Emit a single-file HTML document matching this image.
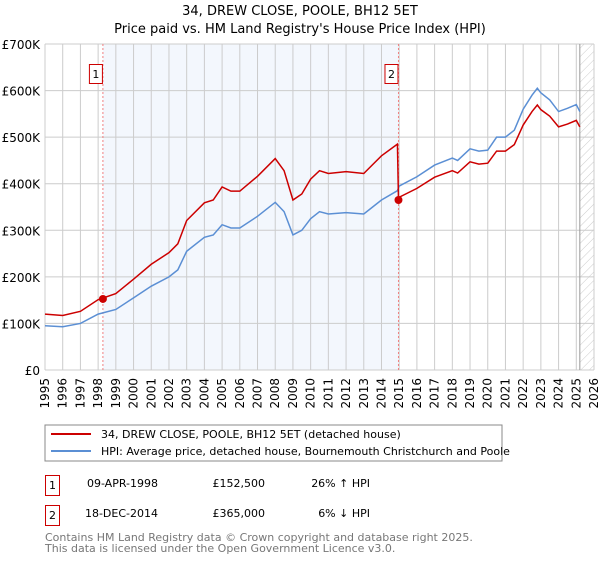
<!DOCTYPE html>
<html><head><meta charset="utf-8"><style>
body{margin:0;background:#fff;font-family:"DejaVu Sans","Liberation Sans",sans-serif;}
svg text{font-family:"DejaVu Sans","Liberation Sans",sans-serif;}
</style></head><body>
<svg width="600" height="560" viewBox="0 0 600 560">
<defs><pattern id="hatch" width="6" height="6" patternUnits="userSpaceOnUse" patternTransform="rotate(45)"><line x1="0" y1="0" x2="0" y2="6" stroke="#ccc" stroke-width="1"/></pattern></defs>
<text x="300" y="15" text-anchor="middle" font-size="13">34, DREW CLOSE, POOLE, BH12 5ET</text>
<text x="300" y="33" text-anchor="middle" font-size="13">Price paid vs. HM Land Registry's House Price Index (HPI)</text>
<g id="plot"></g>
<g>
<rect x="45" y="425" width="457" height="36" fill="#fff" stroke="#888"/>
<line x1="51" y1="434" x2="91" y2="434" stroke="#cc0000" stroke-width="2"/>
<text x="101" y="438" font-size="11">34, DREW CLOSE, POOLE, BH12 5ET (detached house)</text>
<line x1="51" y1="451" x2="91" y2="451" stroke="#5b8fd4" stroke-width="2"/>
<text x="101" y="455" font-size="11">HPI: Average price, detached house, Bournemouth Christchurch and Poole</text>
</g>
<g font-size="11">
<rect x="45.5" y="475.5" width="14" height="20" fill="#fff" stroke="#cc0000"/>
<text x="52.5" y="489" text-anchor="middle">1</text>
<text x="158" y="487" text-anchor="end">09-APR-1998</text>
<text x="265" y="487" text-anchor="end">£152,500</text>
<text x="370" y="487" text-anchor="end">26% ↑ HPI</text>
<rect x="45.5" y="505.5" width="14" height="20" fill="#fff" stroke="#cc0000"/>
<text x="52.5" y="519" text-anchor="middle">2</text>
<text x="158" y="517" text-anchor="end">18-DEC-2014</text>
<text x="265" y="517" text-anchor="end">£365,000</text>
<text x="370" y="517" text-anchor="end">6% ↓ HPI</text>
</g>
<text x="45" y="541" font-size="11" fill="#777">Contains HM Land Registry data © Crown copyright and database right 2025.</text>
<text x="45" y="552" font-size="11" fill="#777">This data is licensed under the Open Government Licence v3.0.</text>
</svg>
<script>
const years=[1995,1996,1997,1998,1999,2000,2001,2002,2002.5,2003,2004,2004.5,2005,2005.5,2006,2007,2008,2008.5,2009,2009.5,2010,2010.5,2011,2012,2013,2013.5,2014,2014.9,2015,2016,2017,2018,2018.3,2019,2019.5,2020,2020.5,2021,2021.5,2022,2022.5,2022.8,2023,2023.5,2024,2024.5,2025,2025.2];
const hpiValues=[95,93,100,120,130,155,180,200,215,255,285,290,312,305,305,330,360,340,290,300,325,340,335,338,335,350,365,385,395,415,440,455,450,475,470,472,500,500,515,560,590,605,595,580,555,562,570,555];
const redYears=[1995,1996,1997,1998,1999,2000,2001,2002,2002.5,2003,2004,2004.5,2005,2005.5,2006,2007,2008,2008.5,2009,2009.5,2010,2010.5,2011,2012,2013,2013.5,2014,2014.9,2014.96,2015,2016,2017,2018,2018.3,2019,2019.5,2020,2020.5,2021,2021.5,2022,2022.5,2022.8,2023,2023.5,2024,2024.5,2025,2025.2];
const redValues=[120,117,126,151,164,195,227,252,271,321,359,365,393,384,384,416,454,428,365,378,410,428,422,426,422,441,460,485,365,371,390,414,428,423,447,442,444,470,470,484,526,555,569,559,545,522,528,536,522];
const saleYears=[1998.27,2014.96];
const saleValues=[152.5,365];
const saleLabels=["1","2"];
const yTicks=[0,100,200,300,400,500,600,700];
const yTickLabels=["£0","£100K","£200K","£300K","£400K","£500K","£600K","£700K"];
const xTicks=[];for(let y=1995;y<=2026;y++)xTicks.push(y);

const X0=45,X1=594,Y0=370,Y1=44;
const xs=v=>X0+(v-1995)/(2026-1995)*(X1-X0);
const ys=v=>Y0-v/700*(Y0-Y1);
const NS="http://www.w3.org/2000/svg";
const g=document.getElementById('plot');
function mk(t,a,p){const e=document.createElementNS(NS,t);for(const k in a)e.setAttribute(k,a[k]);(p||g).appendChild(e);return e;}
// shaded region
let r=mk('rect',{x:xs(saleYears[0]),y:Y1,width:xs(saleYears[1])-xs(saleYears[0]),height:Y0-Y1,fill:'#eef3fc',opacity:0.7});


let h=mk('rect',{x:xs(2025.2),y:Y1,width:X1-xs(2025.2),height:Y0-Y1,fill:'url(#hatch)'});


xTicks.forEach(t=>{
 const l=mk('line',{x1:xs(t),x2:xs(t),y1:Y1,y2:Y0,stroke:'#ccc','stroke-width':1});
 
 
 const tx=mk('text',{x:0,y:0,'font-size':12,'text-anchor':'end',transform:`translate(${xs(t)+4},378) rotate(-90)`});
 tx.textContent=t;
 
 
});
yTicks.forEach((t,i)=>{
 const l=mk('line',{x1:X0,x2:X1,y1:ys(t),y2:ys(t),stroke:'#ccc','stroke-width':1});
 
 
 const tx=mk('text',{x:40,y:ys(t)+5,'font-size':12,'text-anchor':'end'});
 tx.textContent=yTickLabels[i];
 
 
});
let vl=mk('line',{x1:xs(2025.2),x2:xs(2025.2),y1:Y1,y2:Y0,stroke:'#999','stroke-width':1});


saleYears.forEach((s,i)=>{
 const l=mk('line',{x1:xs(s),x2:xs(s),y1:Y1,y2:Y0,stroke:'#f08080','stroke-width':1,'stroke-dasharray':'2,2'});
 
 
 const b=mk('rect',{x:xs(s)-13.5,y:64.5,width:13,height:19,fill:'#fff',stroke:'#cc0000'});
 
 
 const tx=mk('text',{x:xs(s)-7,y:78,'font-size':11,'text-anchor':'middle'});
 tx.textContent=saleLabels[i];
 
 
});
const hp=mk('polyline',{points:years.map((y,i)=>xs(y)+','+ys(hpiValues[i])).join(' '),fill:'none',stroke:'#5b8fd4','stroke-width':1.5});


const rp=mk('polyline',{points:redYears.map((y,i)=>xs(y)+','+ys(redValues[i])).join(' '),fill:'none',stroke:'#cc0000','stroke-width':1.5});


saleYears.forEach((s,i)=>{
 const c=mk('circle',{cx:xs(s),cy:ys(saleValues[i]),r:4,fill:'#cc0000'});
 
 
});
</script>
</body></html>
